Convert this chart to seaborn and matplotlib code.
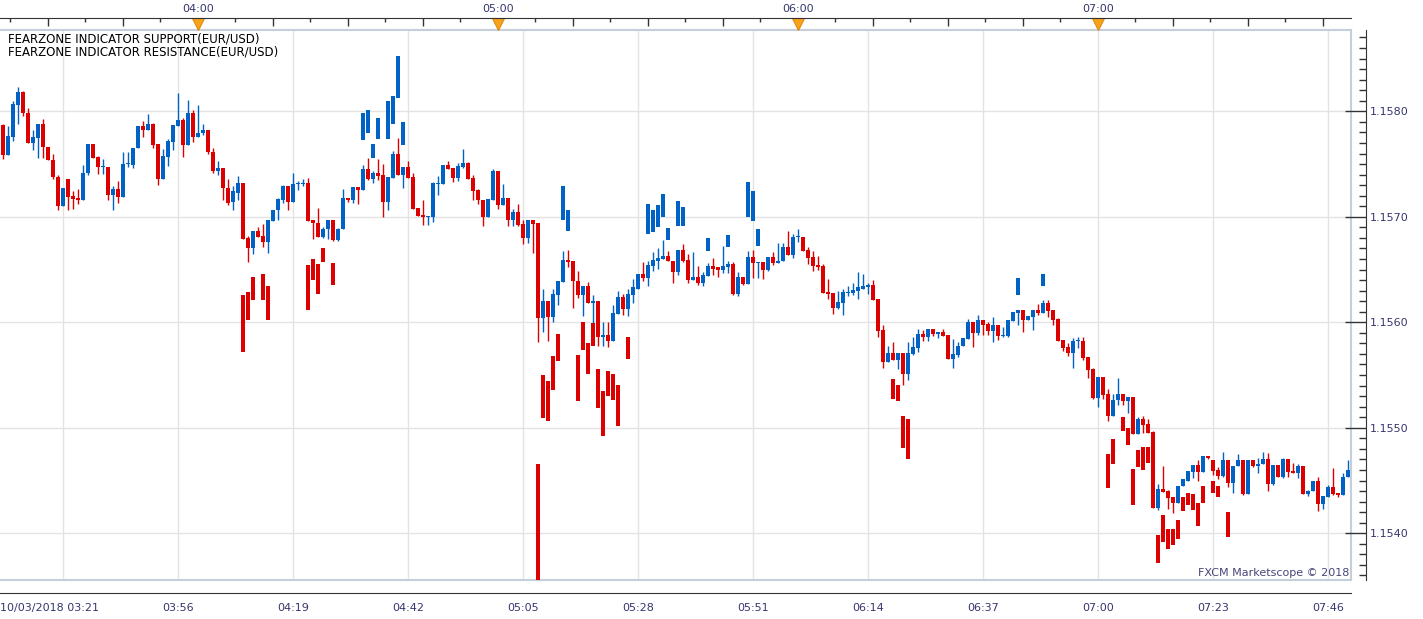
import numpy as np
import pandas as pd
import matplotlib
matplotlib.use("Agg")
import matplotlib.pyplot as plt
import matplotlib.dates as mdates
import seaborn as sns

# EUR/USD 1-minute candles, 10/03/2018 from 03:21
start_time = "2018-10-03 03:21"

open_ = [
    1.15787, 1.15759, 1.15776, 1.15806, 1.15818, 1.15798, 1.15770, 1.15775, 1.15788, 1.15766,
    1.15754, 1.15738, 1.15710, 1.15736, 1.15720, 1.15718, 1.15716, 1.15742, 1.15769, 1.15757,
    1.15747, 1.15747, 1.15721, 1.15726, 1.15719, 1.15750, 1.15749, 1.15765, 1.15786, 1.15782,
    1.15788, 1.15769, 1.15736, 1.15757, 1.15771, 1.15786, 1.15792, 1.15768, 1.15798, 1.15776,
    1.15779, 1.15782, 1.15761, 1.15743, 1.15746, 1.15727, 1.15714, 1.15723, 1.15732, 1.15680,
    1.15670, 1.15687, 1.15682, 1.15676, 1.15696, 1.15706, 1.15716, 1.15729, 1.15714, 1.15731,
    1.15731, 1.15732, 1.15697, 1.15694, 1.15681, 1.15688, 1.15697, 1.15678, 1.15688, 1.15718,
    1.15716, 1.15728, 1.15725, 1.15745, 1.15736, 1.15742, 1.15740, 1.15714, 1.15737, 1.15760,
    1.15740, 1.15747, 1.15738, 1.15708, 1.15702, 1.15700, 1.15700, 1.15731, 1.15731, 1.15749,
    1.15746, 1.15737, 1.15747, 1.15751, 1.15737, 1.15725, 1.15716, 1.15700, 1.15716, 1.15743,
    1.15711, 1.15718, 1.15697, 1.15705, 1.15693, 1.15680, 1.15697, 1.15694, 1.15604, 1.15620,
    1.15605, 1.15626, 1.15638, 1.15659, 1.15658, 1.15639, 1.15626, 1.15634, 1.15618, 1.15620,
    1.15586, 1.15588, 1.15582, 1.15608, 1.15624, 1.15613, 1.15626, 1.15632, 1.15646, 1.15642,
    1.15653, 1.15658, 1.15660, 1.15663, 1.15658, 1.15648, 1.15669, 1.15659, 1.15640, 1.15643,
    1.15637, 1.15644, 1.15653, 1.15652, 1.15650, 1.15652, 1.15655, 1.15627, 1.15643, 1.15636,
    1.15662, 1.15656, 1.15657, 1.15650, 1.15662, 1.15656, 1.15658, 1.15671, 1.15664, 1.15681,
    1.15681, 1.15669, 1.15662, 1.15654, 1.15653, 1.15629, 1.15628, 1.15614, 1.15618, 1.15628,
    1.15628, 1.15630, 1.15632, 1.15633, 1.15635, 1.15622, 1.15593, 1.15562, 1.15571, 1.15564,
    1.15571, 1.15551, 1.15570, 1.15576, 1.15589, 1.15586, 1.15594, 1.15589, 1.15591, 1.15588,
    1.15565, 1.15569, 1.15578, 1.15584, 1.15600, 1.15590, 1.15602, 1.15598, 1.15592, 1.15597,
    1.15587, 1.15587, 1.15601, 1.15609, 1.15612, 1.15602, 1.15605, 1.15612, 1.15609, 1.15618,
    1.15612, 1.15603, 1.15583, 1.15577, 1.15571, 1.15582, 1.15582, 1.15567, 1.15556, 1.15528,
    1.15548, 1.15532, 1.15511, 1.15526, 1.15532, 1.15525, 1.15529, 1.15494, 1.15508, 1.15504,
    1.15496, 1.15424, 1.15442, 1.15440, 1.15434, 1.15429, 1.15445, 1.15450, 1.15458, 1.15465,
    1.15458, 1.15473, 1.15469, 1.15460, 1.15454, 1.15469, 1.15448, 1.15464, 1.15469, 1.15437,
    1.15469, 1.15464, 1.15466, 1.15470, 1.15447, 1.15465, 1.15453, 1.15470, 1.15459, 1.15457,
    1.15464, 1.15437, 1.15440, 1.15450, 1.15428, 1.15434, 1.15444, 1.15438, 1.15436, 1.15453,
]

high = [
    1.15788, 1.15786, 1.15810, 1.15823, 1.15819, 1.15803, 1.15782, 1.15788, 1.15793, 1.15766,
    1.15760, 1.15740, 1.15727, 1.15736, 1.15724, 1.15726, 1.15749, 1.15769, 1.15769, 1.15758,
    1.15755, 1.15747, 1.15729, 1.15734, 1.15761, 1.15761, 1.15765, 1.15786, 1.15791, 1.15797,
    1.15789, 1.15769, 1.15764, 1.15774, 1.15787, 1.15817, 1.15794, 1.15811, 1.15801, 1.15806,
    1.15788, 1.15782, 1.15765, 1.15753, 1.15746, 1.15736, 1.15729, 1.15739, 1.15732, 1.15682,
    1.15687, 1.15690, 1.15693, 1.15697, 1.15706, 1.15718, 1.15730, 1.15729, 1.15742, 1.15734,
    1.15736, 1.15737, 1.15697, 1.15708, 1.15690, 1.15697, 1.15697, 1.15689, 1.15726, 1.15718,
    1.15728, 1.15728, 1.15749, 1.15756, 1.15743, 1.15755, 1.15750, 1.15738, 1.15762, 1.15775,
    1.15747, 1.15753, 1.15742, 1.15708, 1.15716, 1.15701, 1.15733, 1.15739, 1.15749, 1.15753,
    1.15746, 1.15751, 1.15764, 1.15752, 1.15740, 1.15726, 1.15716, 1.15717, 1.15745, 1.15743,
    1.15731, 1.15718, 1.15707, 1.15712, 1.15697, 1.15697, 1.15697, 1.15694, 1.15632, 1.15620,
    1.15632, 1.15639, 1.15668, 1.15669, 1.15658, 1.15649, 1.15634, 1.15638, 1.15626, 1.15620,
    1.15600, 1.15600, 1.15616, 1.15630, 1.15627, 1.15632, 1.15641, 1.15646, 1.15657, 1.15658,
    1.15667, 1.15670, 1.15678, 1.15668, 1.15658, 1.15669, 1.15674, 1.15665, 1.15667, 1.15653,
    1.15648, 1.15656, 1.15661, 1.15652, 1.15672, 1.15658, 1.15657, 1.15648, 1.15643, 1.15668,
    1.15669, 1.15657, 1.15657, 1.15662, 1.15667, 1.15675, 1.15675, 1.15687, 1.15684, 1.15688,
    1.15681, 1.15671, 1.15668, 1.15663, 1.15655, 1.15641, 1.15628, 1.15630, 1.15632, 1.15634,
    1.15637, 1.15648, 1.15646, 1.15637, 1.15640, 1.15622, 1.15597, 1.15578, 1.15581, 1.15571,
    1.15571, 1.15581, 1.15586, 1.15594, 1.15593, 1.15594, 1.15594, 1.15591, 1.15594, 1.15588,
    1.15584, 1.15581, 1.15585, 1.15603, 1.15600, 1.15607, 1.15602, 1.15600, 1.15605, 1.15597,
    1.15596, 1.15602, 1.15610, 1.15612, 1.15612, 1.15606, 1.15612, 1.15617, 1.15621, 1.15621,
    1.15612, 1.15604, 1.15583, 1.15580, 1.15585, 1.15586, 1.15586, 1.15567, 1.15557, 1.15548,
    1.15548, 1.15537, 1.15532, 1.15547, 1.15532, 1.15529, 1.15529, 1.15510, 1.15511, 1.15508,
    1.15497, 1.15447, 1.15464, 1.15441, 1.15434, 1.15445, 1.15451, 1.15459, 1.15465, 1.15469,
    1.15473, 1.15473, 1.15469, 1.15463, 1.15477, 1.15469, 1.15464, 1.15475, 1.15469, 1.15469,
    1.15469, 1.15471, 1.15477, 1.15476, 1.15465, 1.15465, 1.15471, 1.15470, 1.15467, 1.15466,
    1.15464, 1.15441, 1.15450, 1.15453, 1.15435, 1.15446, 1.15462, 1.15438, 1.15457, 1.15469,
]

low = [
    1.15755, 1.15759, 1.15772, 1.15788, 1.15796, 1.15770, 1.15763, 1.15756, 1.15756, 1.15754,
    1.15736, 1.15706, 1.15710, 1.15706, 1.15707, 1.15712, 1.15716, 1.15740, 1.15756, 1.15741,
    1.15741, 1.15716, 1.15706, 1.15713, 1.15719, 1.15747, 1.15746, 1.15765, 1.15776, 1.15782,
    1.15765, 1.15730, 1.15736, 1.15748, 1.15763, 1.15786, 1.15757, 1.15768, 1.15771, 1.15776,
    1.15778, 1.15760, 1.15742, 1.15740, 1.15716, 1.15711, 1.15706, 1.15716, 1.15679, 1.15657,
    1.15665, 1.15681, 1.15671, 1.15666, 1.15696, 1.15697, 1.15713, 1.15706, 1.15714, 1.15725,
    1.15729, 1.15696, 1.15679, 1.15681, 1.15680, 1.15679, 1.15677, 1.15677, 1.15688, 1.15714,
    1.15713, 1.15712, 1.15725, 1.15735, 1.15732, 1.15735, 1.15700, 1.15706, 1.15737, 1.15740,
    1.15727, 1.15737, 1.15707, 1.15701, 1.15692, 1.15692, 1.15695, 1.15721, 1.15731, 1.15745,
    1.15733, 1.15734, 1.15746, 1.15736, 1.15716, 1.15712, 1.15691, 1.15700, 1.15716, 1.15707,
    1.15711, 1.15691, 1.15691, 1.15691, 1.15674, 1.15675, 1.15666, 1.15581, 1.15591, 1.15582,
    1.15600, 1.15616, 1.15638, 1.15652, 1.15614, 1.15623, 1.15606, 1.15618, 1.15591, 1.15578,
    1.15578, 1.15577, 1.15582, 1.15608, 1.15607, 1.15606, 1.15618, 1.15632, 1.15639, 1.15634,
    1.15649, 1.15651, 1.15660, 1.15658, 1.15637, 1.15645, 1.15657, 1.15637, 1.15640, 1.15635,
    1.15634, 1.15644, 1.15645, 1.15643, 1.15647, 1.15647, 1.15626, 1.15625, 1.15635, 1.15636,
    1.15642, 1.15642, 1.15641, 1.15649, 1.15654, 1.15656, 1.15658, 1.15664, 1.15661, 1.15676,
    1.15668, 1.15655, 1.15649, 1.15650, 1.15628, 1.15622, 1.15608, 1.15613, 1.15607, 1.15625,
    1.15626, 1.15622, 1.15632, 1.15627, 1.15621, 1.15586, 1.15557, 1.15562, 1.15564, 1.15556,
    1.15541, 1.15545, 1.15569, 1.15572, 1.15582, 1.15582, 1.15587, 1.15585, 1.15587, 1.15565,
    1.15557, 1.15567, 1.15578, 1.15584, 1.15577, 1.15588, 1.15588, 1.15588, 1.15581, 1.15583,
    1.15586, 1.15586, 1.15601, 1.15597, 1.15591, 1.15602, 1.15593, 1.15607, 1.15609, 1.15605,
    1.15597, 1.15582, 1.15573, 1.15568, 1.15557, 1.15576, 1.15564, 1.15547, 1.15527, 1.15520,
    1.15527, 1.15506, 1.15511, 1.15522, 1.15522, 1.15514, 1.15494, 1.15494, 1.15495, 1.15495,
    1.15424, 1.15422, 1.15439, 1.15423, 1.15419, 1.15429, 1.15445, 1.15450, 1.15452, 1.15450,
    1.15458, 1.15470, 1.15455, 1.15451, 1.15453, 1.15444, 1.15438, 1.15464, 1.15436, 1.15437,
    1.15463, 1.15457, 1.15466, 1.15440, 1.15446, 1.15453, 1.15452, 1.15453, 1.15457, 1.15452,
    1.15437, 1.15435, 1.15440, 1.15421, 1.15423, 1.15434, 1.15436, 1.15434, 1.15436, 1.15453,
]

close_ = [
    1.15759, 1.15777, 1.15807, 1.15818, 1.15798, 1.15770, 1.15776, 1.15788, 1.15766, 1.15754,
    1.15738, 1.15710, 1.15727, 1.15719, 1.15717, 1.15716, 1.15742, 1.15769, 1.15756, 1.15747,
    1.15748, 1.15721, 1.15726, 1.15719, 1.15750, 1.15751, 1.15765, 1.15786, 1.15782, 1.15788,
    1.15768, 1.15736, 1.15758, 1.15772, 1.15787, 1.15792, 1.15768, 1.15798, 1.15776, 1.15779,
    1.15782, 1.15761, 1.15743, 1.15746, 1.15727, 1.15713, 1.15724, 1.15732, 1.15679, 1.15670,
    1.15687, 1.15681, 1.15676, 1.15697, 1.15706, 1.15717, 1.15729, 1.15714, 1.15731, 1.15732,
    1.15732, 1.15696, 1.15694, 1.15681, 1.15688, 1.15697, 1.15678, 1.15688, 1.15718, 1.15716,
    1.15728, 1.15725, 1.15745, 1.15736, 1.15742, 1.15739, 1.15714, 1.15738, 1.15760, 1.15740,
    1.15747, 1.15737, 1.15707, 1.15701, 1.15700, 1.15701, 1.15732, 1.15732, 1.15749, 1.15745,
    1.15737, 1.15748, 1.15751, 1.15736, 1.15724, 1.15716, 1.15700, 1.15717, 1.15743, 1.15711,
    1.15718, 1.15697, 1.15705, 1.15692, 1.15680, 1.15697, 1.15693, 1.15604, 1.15620, 1.15605,
    1.15627, 1.15639, 1.15659, 1.15657, 1.15639, 1.15626, 1.15634, 1.15618, 1.15620, 1.15586,
    1.15588, 1.15582, 1.15609, 1.15624, 1.15613, 1.15627, 1.15633, 1.15646, 1.15642, 1.15654,
    1.15659, 1.15661, 1.15663, 1.15658, 1.15648, 1.15669, 1.15658, 1.15640, 1.15643, 1.15637,
    1.15645, 1.15653, 1.15651, 1.15650, 1.15653, 1.15655, 1.15627, 1.15643, 1.15636, 1.15662,
    1.15656, 1.15657, 1.15650, 1.15662, 1.15656, 1.15658, 1.15671, 1.15664, 1.15681, 1.15682,
    1.15668, 1.15661, 1.15653, 1.15652, 1.15628, 1.15627, 1.15614, 1.15619, 1.15629, 1.15629,
    1.15631, 1.15633, 1.15634, 1.15635, 1.15621, 1.15592, 1.15562, 1.15571, 1.15564, 1.15571,
    1.15551, 1.15571, 1.15577, 1.15589, 1.15586, 1.15594, 1.15589, 1.15591, 1.15587, 1.15565,
    1.15570, 1.15578, 1.15585, 1.15600, 1.15590, 1.15602, 1.15597, 1.15592, 1.15597, 1.15587,
    1.15588, 1.15602, 1.15610, 1.15612, 1.15602, 1.15606, 1.15612, 1.15609, 1.15618, 1.15611,
    1.15602, 1.15582, 1.15576, 1.15571, 1.15582, 1.15583, 1.15566, 1.15555, 1.15528, 1.15548,
    1.15531, 1.15511, 1.15526, 1.15532, 1.15525, 1.15529, 1.15494, 1.15508, 1.15503, 1.15495,
    1.15424, 1.15442, 1.15439, 1.15433, 1.15429, 1.15445, 1.15451, 1.15459, 1.15465, 1.15458,
    1.15473, 1.15471, 1.15459, 1.15454, 1.15469, 1.15448, 1.15464, 1.15469, 1.15437, 1.15469,
    1.15464, 1.15466, 1.15470, 1.15447, 1.15465, 1.15453, 1.15470, 1.15458, 1.15457, 1.15464,
    1.15437, 1.15440, 1.15450, 1.15428, 1.15435, 1.15444, 1.15437, 1.15436, 1.15453, 1.15460,
]

# fear zone bars: candle index, top, bottom
support_idx = [48, 49, 50, 52, 53, 61, 62, 63, 64, 66,
               107, 108, 109, 110, 111, 115, 116, 117, 118, 119, 120, 121, 122, 123, 125,
               178, 179, 180, 181, 221, 222, 224, 225, 226, 227, 228, 229,
               231, 232, 233, 234, 235, 236, 237, 238, 239, 240, 242, 243, 245]
support_top = [1.15626, 1.15629, 1.15643, 1.15646, 1.15634, 1.15654, 1.15660, 1.15655, 1.15670, 1.15656,
               1.15466, 1.15550, 1.15544, 1.15568, 1.15589, 1.15569, 1.15600, 1.15580, 1.15599, 1.15556,
               1.15535, 1.15554, 1.15551, 1.15541, 1.15586,
               1.15546, 1.15541, 1.15511, 1.15508, 1.15475, 1.15489, 1.15510, 1.15500, 1.15461, 1.15479,
               1.15482, 1.15482,
               1.15398, 1.15417, 1.15404, 1.15404, 1.15413, 1.15434, 1.15438, 1.15437, 1.15429, 1.15445,
               1.15450, 1.15445, 1.15420]
support_bottom = [1.15572, 1.15602, 1.15621, 1.15621, 1.15602, 1.15612, 1.15640, 1.15627, 1.15657, 1.15635,
                  1.15355, 1.15509, 1.15506, 1.15536, 1.15563, 1.15525, 1.15574, 1.15551, 1.15578, 1.15519,
                  1.15492, 1.15530, 1.15526, 1.15502, 1.15565,
                  1.15527, 1.15525, 1.15481, 1.15470, 1.15443, 1.15466, 1.15497, 1.15484, 1.15427, 1.15463,
                  1.15460, 1.15467,
                  1.15372, 1.15392, 1.15385, 1.15389, 1.15395, 1.15421, 1.15427, 1.15422, 1.15407, 1.15429,
                  1.15438, 1.15434, 1.15396]

resistance_idx = [72, 73, 74, 75, 77, 78, 79, 80, 112, 113, 129, 130, 131, 132, 133,
                  135, 136, 141, 145, 149, 150, 151, 203, 208]
resistance_top = [1.15798, 1.15801, 1.15769, 1.15794, 1.15810, 1.15815, 1.15852, 1.15790,
                  1.15729, 1.15706, 1.15712, 1.15706, 1.15711, 1.15722, 1.15689,
                  1.15715, 1.15709, 1.15680, 1.15683, 1.15733, 1.15724, 1.15688, 1.15642, 1.15646]
resistance_bottom = [1.15773, 1.15779, 1.15756, 1.15774, 1.15774, 1.15788, 1.15813, 1.15768,
                     1.15697, 1.15687, 1.15684, 1.15686, 1.15690, 1.15700, 1.15678,
                     1.15691, 1.15691, 1.15668, 1.15671, 1.15700, 1.15696, 1.15672, 1.15626, 1.15634]

legend_lines = ["FEARZONE INDICATOR SUPPORT(EUR/USD)", "FEARZONE INDICATOR RESISTANCE(EUR/USD)"]

RED = "#dc0000"
BLUE = "#0062c4"
AXIS_TXT = "#363670"
GRID = "#e3e3e3"
FRAME = "#c5cfdc"

sns.set_style("white")
plt.rcParams["font.family"] = ["DejaVu Sans"]

W, H = 1423, 619
fig = plt.figure(figsize=(W / 100, H / 100), dpi=100)


def box(x0, y0, x1, y1):
    # pixel box -> figure fraction
    return [x0 / W, 1 - y1 / H, (x1 - x0) / W, (y1 - y0) / H]


o = np.array(open_)
h = np.array(high)
lo = np.array(low)
c = np.array(close_)

times = pd.date_range(start_time, periods=len(c), freq="min")
x = mdates.date2num(times.to_pydatetime())
one_min = 1 / 1440
xlim = (x[0] - 0.6 * one_min, x[-1] + 0.6 * one_min)
ylim = (1.153557, 1.158771)

ax = fig.add_axes(box(0, 30, 1351, 580))
colors = np.where(c >= o, BLUE, RED)
ax.vlines(x, lo, h, colors=colors, lw=1, zorder=2)
ax.bar(x, np.maximum(np.abs(c - o), 0.000008), bottom=np.minimum(o, c),
       width=0.8 * one_min, color=colors, lw=0, zorder=3)

sx = x[np.array(support_idx)]
ax.bar(sx, np.array(support_top) - np.array(support_bottom), bottom=support_bottom,
       width=0.8 * one_min, color=RED, lw=0, zorder=3)
rx = x[np.array(resistance_idx)]
ax.bar(rx, np.array(resistance_top) - np.array(resistance_bottom), bottom=resistance_bottom,
       width=0.8 * one_min, color=BLUE, lw=0, zorder=3)

ax.set_xlim(*xlim)
ax.set_ylim(*ylim)

grid_times = pd.date_range("2018-10-03 03:33", "2018-10-03 07:49", freq="23min")
grid_x = mdates.date2num(grid_times.to_pydatetime())
price_ticks = np.round(np.arange(1.1540, 1.15801, 0.001), 4)
ax.set_xticks(grid_x)
ax.set_yticks(price_ticks)
ax.grid(True, color=GRID, lw=1)
ax.set_axisbelow(True)
ax.tick_params(length=0, labelbottom=False, labelleft=False)
ax.spines["left"].set_visible(False)
for side in ["top", "right", "bottom"]:
    ax.spines[side].set_color(FRAME)
    ax.spines[side].set_linewidth(1.5)

# right price axis
axr = fig.add_axes(box(1351, 30, 1366, 580))
axr.set_facecolor("none")
axr.set_ylim(*ylim)
for side in ["left", "top", "bottom"]:
    axr.spines[side].set_visible(False)
axr.spines["right"].set_color("#333333")
axr.set_xticks([])
axr.yaxis.tick_right()
axr.set_yticks(price_ticks)
axr.set_yticks(np.round(np.arange(1.1536, 1.15875, 0.0001), 4), minor=True)
axr.set_yticklabels([f"{p:.4f}" for p in price_ticks])
axr.tick_params(axis="y", which="major", direction="in", length=15, width=1,
                color="#333333", pad=3, labelsize=8, labelcolor=AXIS_TXT)
axr.tick_params(axis="y", which="minor", direction="in", length=5, width=1, color="#333333")

# bottom time axis
axb = fig.add_axes(box(0, 580, 1351, 593))
axb.set_facecolor("none")
axb.set_xlim(*xlim)
for side in ["left", "top", "right"]:
    axb.spines[side].set_visible(False)
axb.spines["bottom"].set_color("#333333")
axb.set_yticks([])
bottom_ticks = np.concatenate([[xlim[0]], grid_x])
bottom_labels = [times[0].strftime("%m/%d/%Y %H:%M"), ""] + [t.strftime("%H:%M") for t in grid_times[1:]]
axb.set_xticks(bottom_ticks)
axb.set_xticklabels(bottom_labels)
minor_b = grid_x[0] + np.arange(-4, 96) * 23 / 8 * one_min
axb.set_xticks(minor_b[(minor_b > xlim[0]) & (minor_b < xlim[1])], minor=True)
axb.tick_params(axis="x", which="major", direction="in", length=12, width=1,
                color="#333333", pad=7, labelsize=8, labelcolor=AXIS_TXT)
axb.tick_params(axis="x", which="minor", direction="in", length=4, width=1, color="#333333")
axb.get_xticklabels()[0].set_ha("left")

# top time axis with hour markers
axt = fig.add_axes(box(0, 18, 1351, 30))
axt.set_facecolor("none")
axt.set_xlim(*xlim)
for side in ["left", "bottom", "right"]:
    axt.spines[side].set_visible(False)
axt.spines["top"].set_color("#333333")
axt.set_yticks([])
axt.xaxis.tick_top()
top_major = pd.date_range("2018-10-03 03:30", "2018-10-03 07:45", freq="15min")
top_minor = pd.date_range("2018-10-03 03:22:30", "2018-10-03 07:45", freq="15min")
axt.set_xticks(mdates.date2num(top_major.to_pydatetime()))
axt.set_xticklabels([t.strftime("%H:%M") if t.minute == 0 else "" for t in top_major])
axt.set_xticks(mdates.date2num(top_minor.to_pydatetime()), minor=True)
axt.tick_params(axis="x", which="major", direction="in", length=6, width=1,
                color="#333333", pad=3, labelsize=8, labelcolor=AXIS_TXT)
axt.tick_params(axis="x", which="minor", direction="in", length=3, width=1, color="#333333")
hours = [t for t in top_major if t.minute == 0]
axt.plot(mdates.date2num([t.to_pydatetime() for t in hours]), [0.5] * len(hours), "v",
         transform=axt.get_xaxis_transform(), ms=8, color="#f7a31c", mec="#e08a0a",
         mew=0.8, clip_on=False)

fig.text(8 / W, 1 - 39 / H, legend_lines[0], va="center", ha="left", fontsize=8.5, color="black")
fig.text(8 / W, 1 - 52 / H, legend_lines[1], va="center", ha="left", fontsize=8.5, color="black")
fig.text(1349 / W, 1 - 573 / H, "FXCM Marketscope © 2018", va="center", ha="right",
         fontsize=8, color="#46467a")

fig.savefig("out.png", dpi=100)
